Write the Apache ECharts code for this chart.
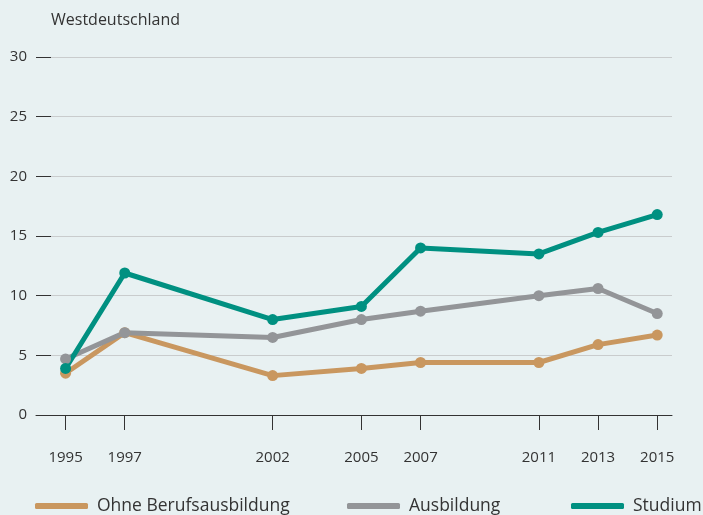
<!DOCTYPE html>
<html>
<head>
<meta charset="utf-8">
<script src="https://cdn.jsdelivr.net/npm/echarts@6/dist/echarts.min.js"></script>
<style>
  html, body { margin: 0; padding: 0; background: #e8f1f2; }
  #chart { width: 703px; height: 515px; }
</style>
</head>
<body>
<div id="chart"></div>
<script>
const years = [1995, 1997, 2002, 2005, 2007, 2011, 2013, 2015]
const ohneBerufsausbildung = [3.5, 6.9, 3.3, 3.9, 4.4, 4.4, 5.9, 6.7]
const ausbildung = [4.7, 6.9, 6.5, 8.0, 8.7, 10.0, 10.6, 8.5]
const studium = [3.9, 11.9, 8.0, 9.1, 14.0, 13.5, 15.3, 16.8]
const yTicks = [0, 5, 10, 15, 20, 25, 30]

const textColor = '#333'
const font = 'Open Sans'

const chart = echarts.init(document.getElementById('chart'))

// eine Linie pro Bildungsgruppe
const makeSeries = (name, values, color) => ({
  name,
  type: 'line',
  data: years.map((y, i) => [y, values[i]]),
  symbol: 'circle',
  symbolSize: 11,
  lineStyle: { width: 5, color },
  itemStyle: { color },
  emphasis: { disabled: true },
})

const makeLegend = (name, left) => ({
  data: [name],
  top: 492,
  left,
  icon: 'roundRect',
  itemWidth: 53,
  itemHeight: 6,
  itemGap: 0,
  textStyle: { fontFamily: font, fontSize: 17.5, color: textColor, padding: [0, 0, 0, 4] },
})

chart.setOption({
  backgroundColor: '#e8f1f2',
  animation: false,
  title: {
    text: 'Westdeutschland',
    left: 46,
    top: 7,
    textStyle: { fontFamily: font, fontSize: 16, fontWeight: 'normal', color: textColor },
  },
  legend: [
    makeLegend('Ohne Berufsausbildung', 30),
    makeLegend('Ausbildung', 342),
    makeLegend('Studium', 566),
  ],
  grid: { left: 36, right: 31, top: 57, bottom: 100 },
  xAxis: {
    type: 'value',
    min: 1994,
    max: 2015.5,
    axisLine: { show: true, onZero: false, lineStyle: { color: '#333', width: 1 } },
    axisTick: { show: true, length: 15, customValues: years, lineStyle: { color: '#333' } },
    axisLabel: {
      customValues: years,
      margin: 35,
      fontFamily: font,
      fontSize: 15,
      color: textColor,
      formatter: (v) => String(v),
    },
    splitLine: { show: false },
  },
  yAxis: {
    type: 'value',
    min: 0,
    max: 30,
    interval: 5,
    axisLine: { show: false },
    axisTick: { show: true, inside: true, length: 15, lineStyle: { color: '#333' } },
    axisLabel: {
      customValues: yTicks,
      margin: 9,
      fontFamily: font,
      fontSize: 15,
      color: textColor,
    },
    splitLine: { show: true, lineStyle: { color: '#c9cccd', width: 1 } },
  },
  series: [
    makeSeries('Ohne Berufsausbildung', ohneBerufsausbildung, '#c9975f'),
    makeSeries('Ausbildung', ausbildung, '#939598'),
    makeSeries('Studium', studium, '#009081'),
  ],
})
</script>
</body>
</html>
